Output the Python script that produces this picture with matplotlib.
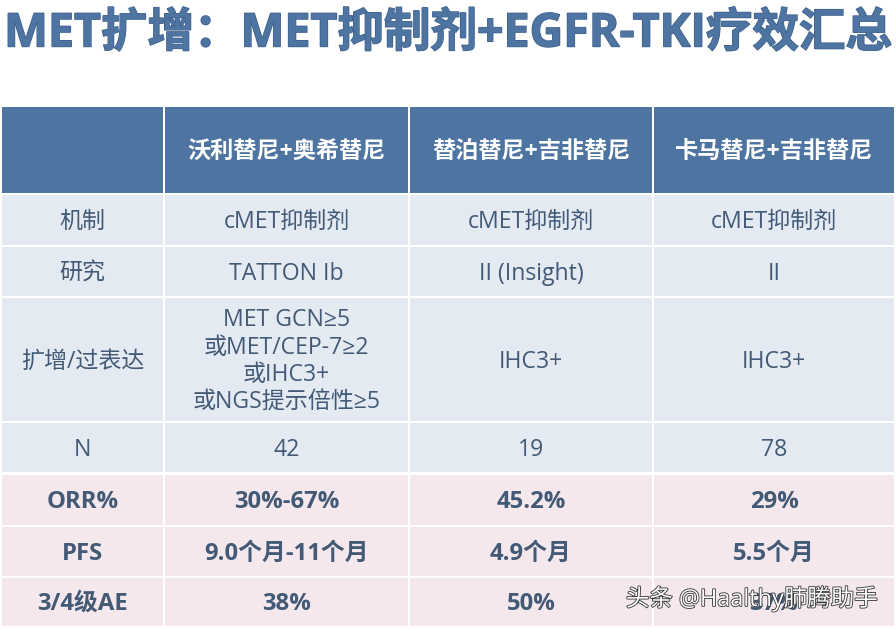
import matplotlib
matplotlib.use("Agg")
import matplotlib.pyplot as plt
import matplotlib.patheffects as pe
from matplotlib.patches import Rectangle

plt.rcParams['font.family'] = ['Open Sans', 'Noto Sans CJK SC', 'DejaVu Sans']

title = "MET扩增：MET抑制剂+EGFR-TKI疗效汇总"
header = ["", "沃利替尼+奥希替尼", "替泊替尼+吉非替尼", "卡马替尼+吉非替尼"]
row_names = ["机制", "研究", "扩增/过表达", "N", "ORR%", "PFS", "3/4级AE"]
col_1 = ["cMET抑制剂", "TATTON Ib", "MET GCN≥5\n或MET/CEP-7≥2\n或IHC3+\n或NGS提示倍性≥5", "42", "30%-67%", "9.0个月-11个月", "38%"]
col_2 = ["cMET抑制剂", "II (Insight)", "IHC3+", "19", "45.2%", "4.9个月", "50%"]
col_3 = ["cMET抑制剂", "II", "IHC3+", "78", "29%", "5.5个月", "37%"]
bold_rows = [4, 5, 6]

# 表格边界（像素）
col_edges = [(2, 163), (165, 408), (410, 652), (654, 894)]
row_edges = [(107, 193), (195, 245), (247, 296), (298, 421), (423, 472), (475, 525), (527, 576), (578, 626)]

blue = "#4e74a2"
light_blue = "#e4eaf2"
light_pink = "#f4e8ec"
text_col = "#425a76"

fig = plt.figure(figsize=(8.96, 6.29), dpi=100)
ax = fig.add_axes([0, 0, 1, 1])
ax.set_xlim(0, 896)
ax.set_ylim(629, 0)
ax.axis("off")

ax.text(447.5, 34, title, ha="center", va="center", fontsize=33.5, fontweight="bold", color=blue,
        path_effects=[pe.withStroke(linewidth=1, foreground="#3d5f8a")])

columns = [row_names, col_1, col_2, col_3]
for c, (x0, x1) in enumerate(col_edges):
    y0, y1 = row_edges[0]
    ax.add_patch(Rectangle((x0, y0), x1 - x0, y1 - y0, fc=blue, ec="none"))
    ax.text((x0 + x1) / 2, (y0 + y1) / 2 + 2, header[c], ha="center", va="center",
            fontsize=16.7, fontweight="bold", color="white")
    for r, (y0, y1) in enumerate(row_edges[1:]):
        bold = r in bold_rows
        ax.add_patch(Rectangle((x0, y0), x1 - x0, y1 - y0, fc=light_pink if bold else light_blue, ec="none"))
        ax.text((x0 + x1) / 2, (y0 + y1) / 2 + 2, columns[c][r], ha="center", va="center",
                fontsize=17.2 if bold else 16.6, fontweight="bold" if bold else "normal",
                color=text_col, linespacing=1.2)

# 水印
ax.text(752, 599, "头条 @Haalthy肺腾助手", ha="center", va="center", fontsize=16.9, color="white",
        path_effects=[pe.withStroke(linewidth=1.2, foreground="#333333")])

fig.savefig("out.png", dpi=100)
